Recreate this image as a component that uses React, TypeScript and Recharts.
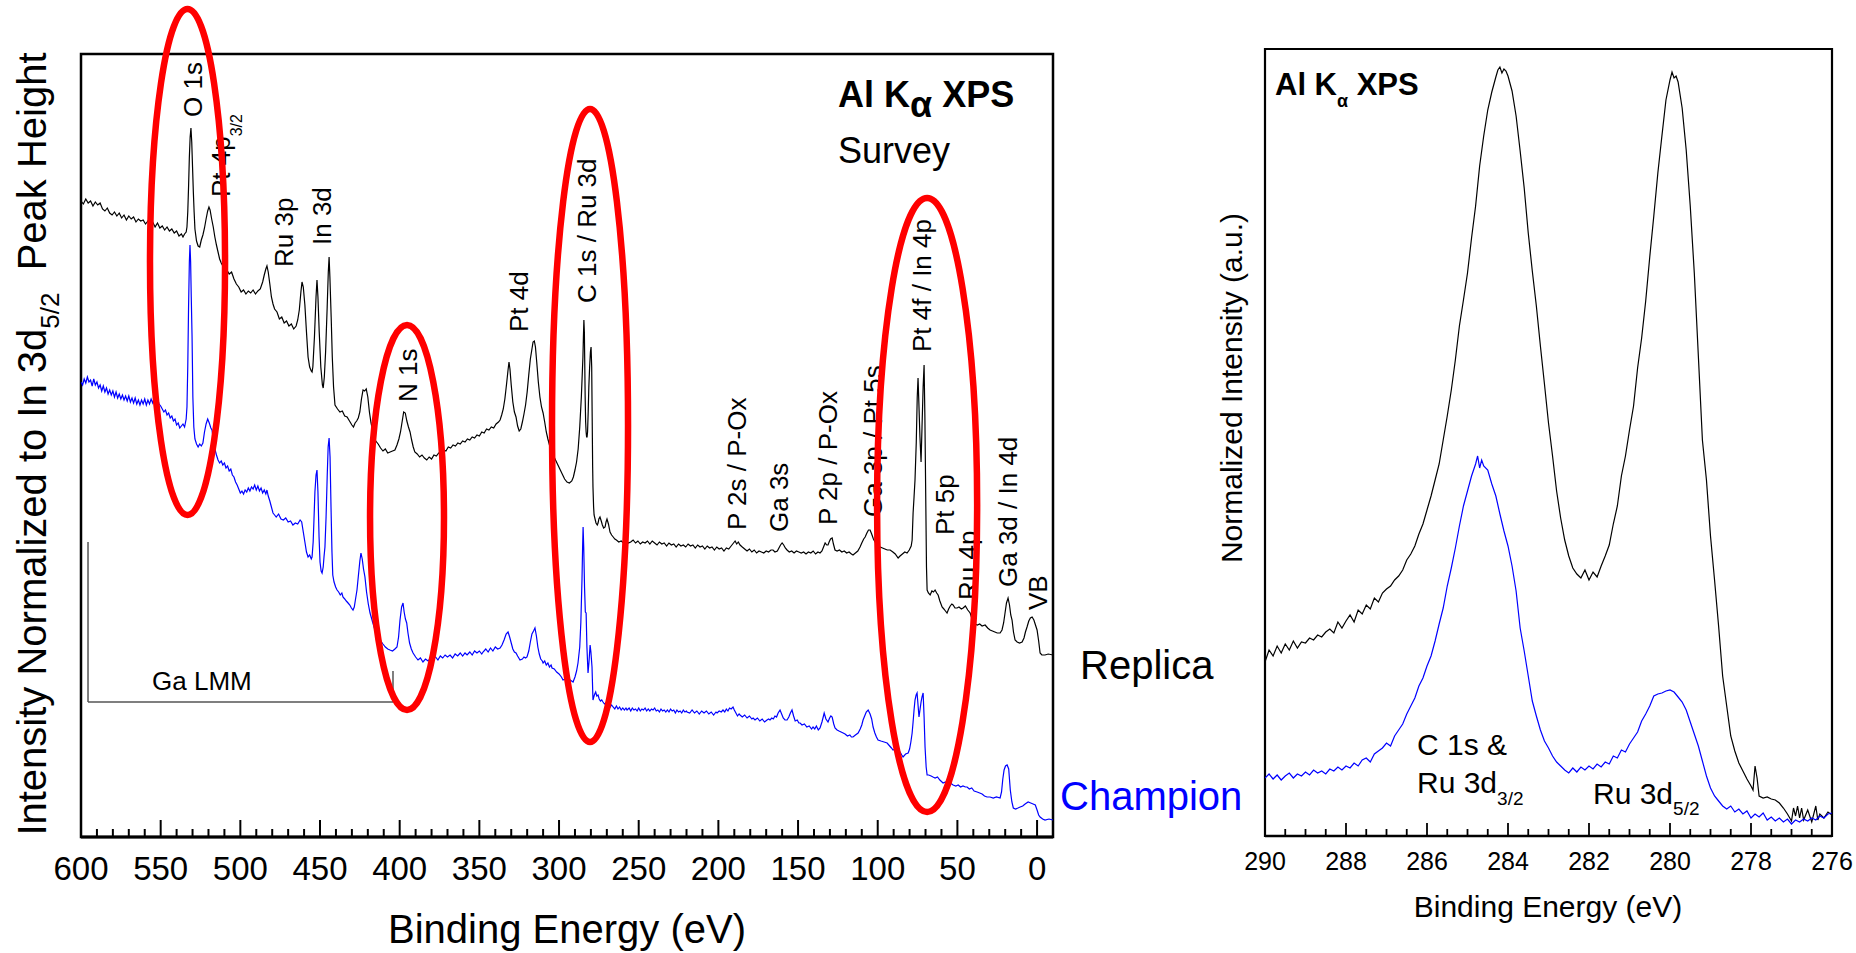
import React from 'react';
import { LineChart, Line, XAxis, YAxis, ReferenceArea, ReferenceDot, ReferenceLine } from 'recharts';

const FONT = '"Liberation Sans", Arial, Helvetica, sans-serif';
const BLUE = '#0000ff';

// Survey spectra: binding energy (eV), intensity (a.u., normalised to In 3d5/2 and offset)
const replicaSurvey: [number, number][] = [
  [600, 636], [598.5, 633], [597, 638], [595.5, 634], [594, 636], [592.5, 631], [591, 635], [589.5, 632],
  [588, 634], [586.5, 628], [585, 626], [583.5, 629], [582, 624], [580.5, 622], [579, 625], [577.5, 621],
  [576, 624], [574.5, 619], [573, 622], [571.5, 617], [570, 621], [568.5, 618], [567, 620], [565.5, 615],
  [564, 618], [562.5, 616], [561, 617], [559.5, 613], [558, 616], [556.5, 612], [555, 615], [553.5, 610],
  [552, 614], [550.5, 609], [549, 611], [547.5, 607], [546, 610], [544.5, 606], [543, 608], [541.5, 604],
  [540, 606], [538.5, 601], [537, 603], [536, 600], [535, 603], [534, 605], [533.5, 610], [533, 625],
  [532.5, 650], [532, 680], [531.5, 700], [531, 709], [530.5, 695], [530, 670], [529.5, 645], [529, 625],
  [528.5, 608], [527.5, 596], [526.5, 591], [525.5, 590], [524.5, 597], [523.5, 602], [522.5, 609],
  [521.5, 618], [520.5, 626], [519.7, 630], [519, 627], [518, 618], [517, 610], [516, 600], [515, 592],
  [514, 585], [513, 578], [512, 574], [511, 571], [510, 569], [508.5, 567], [507, 563], [505.5, 565],
  [504, 558], [502.5, 553], [501, 550], [499.5, 545], [498, 547], [496.5, 543], [495, 546], [493.5, 544],
  [492, 547], [490.5, 543], [489, 546], [487.5, 548], [486, 555], [485, 562], [484, 568], [483.3, 571],
  [482.5, 565], [481.5, 553], [480.5, 540], [479.5, 533], [478.5, 528], [477, 525], [475.5, 518],
  [474, 520], [472.5, 514], [471, 516], [469.5, 511], [468, 513], [466.5, 508], [465, 511], [464, 517],
  [463, 527], [462, 545], [461.3, 555], [460.5, 550], [459.5, 532], [458.5, 505], [457.5, 480],
  [456.5, 470], [455.5, 466], [455, 465], [454.5, 470], [453.5, 500], [452.5, 540], [451.9, 557],
  [451.3, 540], [450.5, 505], [449.5, 470], [448.5, 452], [448, 449], [447.3, 460], [446.5, 485],
  [445.5, 530], [444.8, 565], [444.3, 580], [443.8, 560], [443, 520], [442.3, 480], [441.5, 450],
  [440.6, 432], [439, 428], [437.5, 425], [436, 426], [434.5, 421], [433, 420], [431.5, 416], [430, 412],
  [429, 410], [428, 414], [427, 416], [426, 419], [425, 425], [424, 438], [423, 447], [422, 446],
  [421, 448], [420, 440], [419, 425], [418, 414], [416.5, 403], [415, 396], [413.5, 393], [412, 389],
  [410.5, 386], [409, 388], [407.5, 384], [406, 385], [404.5, 386], [403, 387], [401.7, 392],
  [400.5, 398], [399.5, 405], [398.5, 415], [397.5, 425], [396.5, 424], [395.5, 416], [394.5, 410],
  [393.5, 405], [392.5, 397], [391.5, 390], [390.5, 385], [389, 383], [387.5, 380], [386, 382],
  [384.5, 379], [383, 377], [381.5, 380], [380, 378], [378.5, 382], [377, 381], [375.5, 384], [374, 383],
  [372.5, 387], [371, 386], [369.5, 390], [368, 389], [366.5, 392], [365, 391], [363.5, 394], [362, 393],
  [360.5, 396], [359, 395], [357.5, 398], [356, 397], [354.5, 400], [353, 399], [351.5, 402], [350, 401],
  [348.5, 405], [347, 404], [345.5, 408], [344, 407], [342.5, 410], [341, 409], [339.5, 413], [338, 415],
  [337, 417], [336, 422], [335, 428], [334, 438], [333, 452], [332, 467], [331.4, 475], [330.8, 468],
  [330, 452], [329, 435], [328, 425], [327, 420], [326, 411], [325, 406], [324, 408], [323, 415],
  [322, 423], [321, 432], [320, 445], [319, 462], [318, 478], [317, 488], [316.3, 495], [315.5, 496],
  [314.8, 490], [314, 475], [313, 455], [312, 440], [311, 430], [310, 424], [309, 415], [308, 405],
  [307, 398], [306, 392], [305, 387], [304, 383], [302.5, 378], [301, 373], [299.5, 368], [298, 363],
  [296.5, 358], [295, 355], [293.5, 354], [292, 356], [291, 360], [290, 367], [289, 375], [288, 388],
  [287, 410], [286.5, 425], [286, 440], [285.5, 460], [285, 480], [284.7, 500], [284.4, 517],
  [284.1, 505], [283.6, 440], [283.3, 415], [283, 405], [282.7, 400], [282.4, 400], [282.1, 405],
  [281.7, 425], [281.3, 450], [280.8, 470], [280.3, 485], [279.9, 490], [279.5, 470], [279.2, 420],
  [278.9, 370], [278.7, 350], [278.3, 330], [278, 322], [277.4, 318], [276.8, 314], [276, 312],
  [275.5, 314], [275, 318], [274.3, 320], [273.5, 316], [272.8, 312], [272, 309], [271.1, 310],
  [270.5, 315], [269.9, 318], [269, 313], [268, 305], [267, 302], [266, 300], [265, 298], [264, 297],
  [262.5, 295], [261, 296], [259.5, 294], [258, 296], [256.5, 294], [255, 295], [253.5, 297], [252, 294],
  [250.5, 296], [249, 293], [247.5, 295], [246, 294], [244.5, 296], [243, 293], [241.5, 296], [240, 294],
  [238.5, 292], [237, 295], [235.5, 293], [234, 294], [232.5, 291], [231, 294], [229.5, 292], [228, 293],
  [226.5, 290], [225, 293], [223.5, 291], [222, 292], [220.5, 290], [219, 293], [217.5, 291], [216, 292],
  [214.5, 289], [213, 292], [211.5, 290], [210, 291], [208.5, 288], [207, 291], [205.5, 289], [204, 290],
  [202.5, 287], [201, 290], [199.5, 288], [198, 289], [196.5, 286], [195, 289], [193.5, 288], [192, 291],
  [190.5, 294], [189.5, 296], [188.5, 293], [187.5, 295], [186.4, 292], [185, 290], [183.5, 288],
  [182, 286], [180.5, 288], [179, 285], [177.5, 287], [176, 284], [174.5, 286], [173, 285], [171.5, 284],
  [170, 286], [168.5, 285], [167, 287], [165.7, 287], [164.5, 285], [163, 286], [162, 289], [161, 292],
  [160, 294], [159, 292], [158, 289], [156.9, 287], [155.5, 285], [154, 286], [152.5, 284], [151, 286],
  [149.5, 285], [148, 284], [146.5, 285], [145, 283], [143.5, 285], [142, 284], [140.5, 286], [139, 283],
  [137.5, 285], [136.2, 284], [135, 286], [134, 290], [133, 294], [132, 292], [131.2, 292], [130.5, 295],
  [129.6, 298], [128.6, 299], [127.8, 293], [126.8, 287], [125.5, 286], [124, 287], [122.5, 285],
  [121, 286], [119.5, 284], [118, 285], [116.5, 283], [115.5, 282], [114, 284], [112.5, 286], [111.1, 290],
  [110, 294], [108.8, 298], [107.9, 300], [106.8, 304], [105.8, 307], [104.8, 307], [103.8, 303],
  [102.7, 298], [101.7, 295], [100, 292], [98.5, 290], [97, 289], [95.5, 288], [94, 287], [92.2, 287],
  [90.5, 285], [89, 283], [87.2, 279], [86, 281], [84.5, 283], [83, 285], [81.6, 284], [80.2, 287],
  [79, 291], [78.4, 297], [77.8, 324], [77.2, 340], [76.6, 357], [75.8, 395], [75.2, 440], [74.7, 459],
  [74.2, 435], [73.5, 400], [72.8, 375], [72.2, 410], [71.5, 450], [70.9, 472], [70.4, 420], [69.8, 330],
  [69.4, 270], [69, 247], [68.2, 244], [67.1, 242], [66, 246], [65, 245], [64, 247], [63, 244],
  [62.1, 242], [61, 236], [59.6, 230], [58.5, 228], [57.5, 226], [56.5, 224], [55.5, 228], [54.5, 231],
  [53.5, 233], [52.7, 232], [51.5, 229], [50.2, 229], [49, 230], [47.5, 228], [46.4, 229], [45, 231],
  [43.5, 227], [42, 224], [41, 219], [40.2, 215], [39, 213], [37.5, 212], [36, 213], [34.5, 211],
  [32.6, 212], [31, 209], [29.5, 207], [28, 206], [26.5, 205], [25, 204], [23.2, 204], [22, 207],
  [21, 214], [20.1, 224], [19.2, 234], [18.2, 239], [17.3, 232], [16.5, 222], [15.7, 217], [14.8, 205],
  [13.8, 197], [12.5, 195], [11, 194], [9.4, 195], [8.2, 199], [7.3, 205], [6.3, 210], [5.2, 216],
  [4.2, 219], [3.1, 220], [2, 217], [1, 212], [0, 207], [-1, 196], [-1.9, 184], [-3, 182], [-5, 182],
  [-7, 183], [-10, 182],
];

const championSurvey: [number, number][] = [
  [600, 455], [599, 452], [598, 458], [597, 454], [596, 460], [595, 455], [594, 457], [593, 451],
  [592, 458], [591, 452], [590, 455], [589, 449], [588, 452], [587, 446], [586, 451], [585, 445],
  [584, 449], [583, 443], [582, 447], [581, 442], [580, 446], [579, 440], [578, 445], [577, 439],
  [576, 443], [575, 438], [574, 442], [573, 437], [572, 441], [571, 436], [570, 441], [569, 435],
  [568, 439], [567, 434], [566, 439], [565, 433], [564, 437], [563, 432], [562, 437], [561, 433],
  [560, 438], [559, 432], [558, 437], [557, 433], [556, 438], [555, 434], [554, 439], [553, 435],
  [552, 438], [551, 433], [550, 431], [549, 428], [548, 425], [547, 427], [546, 422], [545, 424],
  [544, 419], [543, 421], [542, 416], [541, 418], [540, 412], [539, 414], [538, 409], [537, 411],
  [536, 413], [535, 410], [534, 418], [533.5, 430], [533, 470], [532.5, 530], [532, 575], [531.6, 592],
  [531.2, 575], [530.8, 540], [530.3, 500], [529.8, 440], [529.2, 410], [528.5, 398], [527.5, 393],
  [526.5, 390], [525.5, 393], [524.5, 391], [523.5, 394], [522.5, 405], [521.5, 413], [520.5, 418],
  [519.5, 414], [518.5, 409], [517.8, 407], [517, 398], [516, 388], [515, 382], [514, 377], [513, 374],
  [512, 376], [511, 372], [510, 374], [509, 369], [508, 371], [507, 366], [506, 368], [505, 362],
  [504, 360], [503, 355], [502, 352], [501, 348], [500, 344], [499, 346], [498, 343], [497, 347],
  [496, 345], [495, 349], [494, 346], [493, 350], [492, 348], [491, 352], [490, 347], [489, 351],
  [488, 346], [487, 349], [486, 344], [485, 347], [484, 343], [483.3, 347], [482.5, 341], [481.5, 336],
  [480.5, 330], [479.5, 324], [478.5, 322], [477.5, 320], [476, 323], [474.5, 318], [473, 317],
  [471.5, 319], [470, 315], [468.5, 316], [467, 312], [465.5, 314], [464, 313], [462.5, 317],
  [461.5, 315], [460.7, 307], [459.5, 295], [458.5, 285], [457.5, 280], [456.5, 282], [455.5, 278],
  [455, 280], [454.3, 295], [453.8, 317], [453.2, 345], [452.5, 362], [451.9, 367], [451.3, 345],
  [450.6, 300], [450, 275], [449.3, 266], [448.7, 264], [448, 270], [447.5, 280], [446.9, 290],
  [446.2, 320], [445.5, 360], [444.9, 390], [444.3, 399], [443.7, 380], [443.1, 330], [442.5, 285],
  [442, 262], [441.2, 255], [440.2, 250], [439.3, 247], [438.3, 245], [437.3, 242], [436.3, 244],
  [435.6, 240], [434.5, 238], [433.5, 236], [432.4, 234], [431.3, 232], [430.3, 229], [429.3, 227],
  [428.5, 230], [427.8, 237], [426.8, 247], [426, 260], [425, 276], [424.3, 284], [423.5, 278],
  [422.7, 268], [421.8, 260], [420.8, 245], [419.7, 233], [418.6, 224], [417, 215], [415.5, 207],
  [414, 201], [412.3, 197], [410.5, 193], [409, 190], [407.5, 188], [406.1, 187], [404.5, 186],
  [403, 188], [401.7, 190], [400.7, 200], [399.8, 217], [398.8, 230], [397.9, 234], [397.2, 225],
  [396.4, 218], [395.6, 214], [394.8, 204], [393.8, 194], [392.7, 188], [391.6, 184], [390, 180],
  [388.5, 177], [387, 179], [385.4, 175], [383.8, 178], [382.2, 176], [380.7, 179], [379.1, 179],
  [377.5, 180], [376, 177], [374.5, 181], [373, 179], [371.5, 182], [370, 180], [368.4, 182],
  [366.8, 179], [365.2, 183], [363.6, 181], [362, 184], [360.5, 181], [359, 184], [357.7, 182],
  [356, 185], [354.5, 182], [353, 186], [351.5, 184], [350, 186], [348.5, 183], [347.7, 185], [346, 188],
  [344.5, 185], [343, 189], [341.5, 186], [340, 190], [338.5, 188], [337, 189], [335.8, 192],
  [334.5, 197], [333.2, 203], [332, 205], [331, 200], [330, 194], [329, 188], [328, 185], [327, 184],
  [326, 181], [324.5, 177], [323, 178], [322, 180], [321, 179], [320.1, 180], [319, 186], [318, 195],
  [317, 203], [316, 206], [315.1, 209], [314.2, 201], [313.3, 190], [312.4, 183], [311.5, 178],
  [310.5, 176], [310, 174], [309, 176], [308, 172], [307, 174], [306, 170], [305, 172], [304.4, 169],
  [303, 168], [301.5, 165], [300, 163], [298.5, 160], [297.5, 157], [296, 158], [294.5, 156], [293, 157],
  [291.2, 155], [290, 160], [289, 166], [288.1, 174], [287, 190], [286.3, 215], [285.6, 257],
  [285.2, 290], [284.9, 310], [284.5, 290], [284, 250], [283.5, 225], [283, 224], [282.5, 190],
  [281.8, 164], [281.2, 175], [280.5, 192], [280, 185], [279.3, 170], [278.7, 137], [278.2, 140],
  [277.6, 143], [277, 145], [276.3, 141], [275.5, 142], [274.8, 138], [274, 136], [273.2, 137],
  [272.4, 135], [271.5, 133], [270.6, 134], [269.7, 131], [268.8, 133], [267.9, 130], [267, 132],
  [266.1, 130], [265, 128], [264, 131], [263, 128], [262, 130], [261, 127], [260, 129], [259, 127],
  [258, 129], [257.3, 127], [256, 129], [255, 126], [254, 129], [253, 127], [252, 128], [251, 126],
  [250, 129], [249, 126], [248, 128], [247, 127], [246, 129], [245, 126], [244, 128], [243, 126],
  [242, 128], [241, 127], [240, 129], [239, 126], [238, 127], [237, 125], [236, 128], [235, 126],
  [234, 127], [233, 125], [232, 127], [231, 125], [230, 128], [229, 126], [228, 127], [227, 124],
  [226, 127], [225, 125], [224, 126], [223, 124], [222, 127], [221, 125], [220, 126], [219.7, 125],
  [218, 124], [216.5, 127], [215, 124], [213.5, 126], [212, 123], [210.5, 126], [209, 124], [207.5, 126],
  [206, 123], [204.5, 125], [203, 122], [201.5, 125], [200.8, 124], [199.5, 126], [198.2, 125],
  [197.1, 127], [196, 125], [195, 128], [194, 126], [193, 129], [192, 128], [190.8, 130], [190, 127],
  [189, 124], [188, 121], [187, 123], [186.4, 122], [185, 120], [183.5, 122], [182, 119], [180.5, 121],
  [179, 118], [178.2, 119], [177, 117], [175.5, 119], [174, 116], [172.5, 118], [171, 115], [169.5, 117],
  [168.5, 118], [167.6, 117], [166.5, 119], [165.5, 118], [164.5, 121], [163.5, 120], [162.5, 124],
  [161.3, 127], [160.3, 123], [159.3, 119], [158.2, 117], [156.9, 117], [155.8, 120], [154.8, 124],
  [153.8, 127], [152.8, 121], [151.8, 116], [150.5, 117], [149.5, 114], [148.7, 114], [147.5, 112],
  [146, 113], [144.5, 110], [143, 111], [141.5, 108], [140.6, 110], [139.5, 108], [138.5, 111],
  [137.3, 107], [136.2, 109], [135, 115], [134.2, 120], [133.6, 124], [132.5, 118], [131.2, 115],
  [130.2, 119], [129.4, 121], [128.6, 120], [127.6, 113], [126.8, 109], [125.5, 107], [124.3, 106],
  [123, 105], [121.7, 104], [120.5, 103], [119, 101], [117.5, 102], [116.5, 100], [115.5, 100],
  [114, 102], [112.3, 104], [111, 108], [110, 112], [109.2, 117], [108.2, 121], [107.2, 125], [106, 127],
  [104.8, 123], [103.8, 118], [102.9, 110], [101.8, 104], [100.8, 100], [99.8, 97], [98, 96], [96, 95],
  [94.1, 94], [92.5, 91], [91.4, 89], [90.4, 87], [89, 88], [87.6, 86], [86, 85], [84.9, 82], [84.1, 80],
  [82.5, 83], [80.9, 84], [80, 88], [79.2, 95], [78.4, 104], [77.8, 115], [77.2, 127], [76.6, 137],
  [75.9, 142], [75.3, 144], [74.7, 132], [74.1, 120], [73.4, 128], [72.8, 135], [72.2, 140], [71.5, 144],
  [70.9, 120], [70.3, 90], [69.6, 70], [69, 62], [68, 62], [66.5, 61], [65.3, 60], [64, 59], [62.5, 60],
  [61, 57], [59, 54], [57.5, 55], [56, 53], [54.5, 54], [52.7, 52], [51, 51], [49.5, 52], [48, 50],
  [46.5, 51], [45, 50], [43.9, 50], [42.5, 48], [41, 49], [39.5, 46], [37.6, 45], [36, 44], [34.5, 43],
  [33, 41], [31.4, 40], [29.5, 40], [27.5, 39], [25.5, 40], [23.2, 39], [22.3, 45], [21.5, 58],
  [20.7, 67], [19.8, 71], [18.8, 72], [17.8, 68], [16.8, 47], [15.8, 35], [14.9, 29], [13.5, 28],
  [12, 29], [10.6, 30], [9, 31], [7.5, 33], [5.6, 35], [4, 34], [2.5, 33], [1.1, 32], [0, 27], [-1, 22],
  [-1.9, 20], [-3.5, 18], [-5, 17], [-7.5, 18], [-10, 17],
];

// High-resolution C 1s / Ru 3d window
const replicaC1s: [number, number][] = [
  [290, 174], [289.9, 186], [289.8, 180], [289.7, 190], [289.6, 183], [289.5, 192], [289.4, 186],
  [289.3, 195], [289.2, 188], [289.1, 194], [289, 193], [288.9, 198], [288.8, 196], [288.7, 201],
  [288.6, 199], [288.5, 204], [288.4, 207], [288.3, 203], [288.2, 214], [288.1, 208], [288, 215],
  [287.9, 221], [287.8, 214], [287.7, 226], [287.6, 222], [287.5, 231], [287.4, 227], [287.3, 238],
  [287.2, 234], [287.1, 243], [287, 247], [286.9, 250], [286.8, 256], [286.7, 260], [286.6, 266],
  [286.5, 276], [286.4, 282], [286.3, 290], [286.2, 302], [286.1, 312], [286, 326], [285.9, 340],
  [285.8, 356], [285.7, 372], [285.6, 396], [285.5, 420], [285.4, 446], [285.3, 476], [285.2, 510],
  [285.1, 536], [285, 563], [284.9, 598], [284.8, 630], [284.7, 670], [284.6, 700], [284.5, 726],
  [284.4, 744], [284.3, 759], [284.25, 766], [284.2, 769], [284.15, 763], [284.1, 767], [284.05, 765],
  [284, 760], [283.9, 745], [283.8, 720], [283.7, 685], [283.6, 648], [283.5, 603], [283.4, 565],
  [283.3, 530], [283.2, 490], [283.1, 452], [283, 413], [282.9, 380], [282.8, 345], [282.7, 318],
  [282.6, 296], [282.5, 280], [282.4, 268], [282.3, 262], [282.2, 258], [282.1, 266], [282, 256],
  [281.9, 264], [281.8, 259], [281.7, 270], [281.6, 280], [281.5, 291], [281.4, 312], [281.3, 330],
  [281.2, 360], [281.1, 380], [281, 406], [280.9, 430], [280.8, 468], [280.7, 498], [280.6, 535],
  [280.5, 579], [280.4, 620], [280.3, 663], [280.2, 700], [280.1, 736], [280, 756], [279.95, 764],
  [279.9, 758], [279.85, 760], [279.8, 754], [279.7, 728], [279.6, 686], [279.5, 630], [279.4, 563],
  [279.3, 480], [279.2, 396], [279.1, 356], [279, 300], [278.9, 256], [278.8, 210], [278.7, 160],
  [278.6, 130], [278.5, 100], [278.4, 85], [278.3, 73], [278.2, 65], [278.1, 57], [278, 50],
  [277.95, 46], [277.9, 70], [277.85, 58], [277.8, 40], [277.7, 38], [277.6, 39], [277.5, 37],
  [277.4, 36], [277.3, 33], [277.2, 28], [277.1, 22], [277, 15], [276.95, 28], [276.9, 20],
  [276.85, 30], [276.8, 18], [276.75, 28], [276.7, 16], [276.6, 26], [276.5, 14], [276.4, 30],
  [276.35, 16], [276.3, 22], [276.2, 18], [276.1, 24], [276, 21],
];

const championC1s: [number, number][] = [
  [290, 58], [289.9, 62], [289.8, 57], [289.7, 61], [289.6, 56], [289.5, 60], [289.4, 63], [289.3, 58],
  [289.2, 62], [289.1, 60], [289, 64], [288.9, 61], [288.8, 66], [288.7, 63], [288.6, 65], [288.5, 62],
  [288.4, 67], [288.3, 65], [288.2, 69], [288.1, 66], [288, 70], [287.9, 68], [287.8, 73], [287.7, 70],
  [287.6, 76], [287.5, 78], [287.4, 74], [287.3, 82], [287.2, 85], [287.1, 88], [287, 93], [286.9, 90],
  [286.8, 100], [286.7, 106], [286.6, 112], [286.5, 122], [286.4, 130], [286.3, 138], [286.2, 150],
  [286.1, 158], [286, 170], [285.9, 180], [285.8, 195], [285.7, 212], [285.6, 228], [285.5, 250],
  [285.4, 268], [285.3, 288], [285.2, 310], [285.1, 330], [285, 345], [284.9, 360], [284.8, 372],
  [284.75, 380], [284.7, 368], [284.65, 376], [284.6, 370], [284.5, 366], [284.4, 352], [284.3, 340],
  [284.2, 322], [284.1, 305], [284, 290], [283.9, 270], [283.8, 245], [283.7, 208], [283.6, 185],
  [283.5, 160], [283.4, 135], [283.3, 120], [283.2, 106], [283.1, 95], [283, 88], [282.9, 80],
  [282.8, 74], [282.7, 70], [282.6, 66], [282.5, 63], [282.4, 68], [282.3, 64], [282.2, 69], [282.1, 66],
  [282, 70], [281.9, 67], [281.8, 72], [281.7, 69], [281.6, 74], [281.5, 72], [281.4, 80], [281.3, 78],
  [281.2, 86], [281.1, 84], [281, 92], [280.9, 98], [280.8, 104], [280.7, 115], [280.6, 122],
  [280.5, 130], [280.4, 140], [280.3, 142], [280.2, 143], [280.1, 145], [280, 146], [279.9, 144],
  [279.8, 139], [279.7, 134], [279.6, 126], [279.5, 114], [279.4, 102], [279.3, 90], [279.2, 75],
  [279.1, 60], [279, 48], [278.9, 40], [278.8, 35], [278.7, 30], [278.6, 27], [278.5, 30], [278.4, 24],
  [278.3, 27], [278.2, 22], [278.1, 25], [278, 18], [277.9, 22], [277.8, 19], [277.7, 23], [277.6, 16],
  [277.5, 19], [277.4, 15], [277.3, 18], [277.2, 14], [277.1, 17], [277, 12], [276.9, 16], [276.8, 14],
  [276.7, 17], [276.6, 15], [276.5, 18], [276.4, 16], [276.3, 20], [276.2, 18], [276.1, 22], [276, 23],
];

const SURVEY_TICKS = [
  600, 590, 580, 570, 560, 550, 540, 530, 520, 510, 500, 490, 480, 470, 460, 450, 440, 430, 420, 410,
  400, 390, 380, 370, 360, 350, 340, 330, 320, 310, 300, 290, 280, 270, 260, 250, 240, 230, 220, 210,
  200, 190, 180, 170, 160, 150, 140, 130, 120, 110, 100, 90, 80, 70, 60, 50, 40, 30, 20, 10, 0,
];
const C1S_TICKS = [
  290, 289.5, 289, 288.5, 288, 287.5, 287, 286.5, 286, 285.5, 285, 284.5, 284, 283.5, 283, 282.5, 282,
  281.5, 281, 280.5, 280, 279.5, 279, 278.5, 278, 277.5, 277, 276.5, 276,
];

// peak label: text, subscript, eV, intensity at the label's lower end
const SURVEY_PEAKS: [string, string, number, number][] = [
  ['O 1s', '', 524.1, 720],
  ['Pt 4p', '3/2', 506.5, 640],
  ['Ru 3p', '', 467.2, 570],
  ['In 3d', '', 443.1, 592],
  ['N 1s', '', 389.1, 435],
  ['Pt 4d', '', 319.4, 505],
  ['C 1s / Ru 3d', '', 276.8, 534],
  ['P 2s / P-Ox', '', 182.6, 307],
  ['Ga 3s', '', 156.3, 305],
  ['P 2p / P-Ox', '', 125.8, 312],
  ['Ga 3p / Pt 5s', '', 97.5, 320],
  ['Pt 4f / In 4p', '', 66.8, 485],
  ['Pt 5p', '', 52.3, 302],
  ['Ru 4p', '', 37.9, 237],
  ['Ga 3d / In 4d', '', 12.8, 250],
  ['VB', '', -6.3, 227],
];

// highlight rings: eV from, eV to, intensity low, intensity high
const SURVEY_RINGS: [number, number, number, number][] = [
  [556.7, 509.6, 322, 828],
  [418.6, 372.2, 127, 512],
  [304.4, 256.7, 95, 728],
  [100.4, 37.6, 25, 639],
];

const rows = (pts: [number, number][]) => pts.map(([ev, i]) => ({ ev, i }));

function SurveyTick(props: any) {
  const { x, y, payload } = props;
  const v = payload.value;
  const major = v % 50 === 0;
  return (
    <g>
      {v !== 600 && <line x1={x} x2={x} y1={y} y2={y - (major ? 17 : 8)} stroke="#000" strokeWidth={2} />}
      {major && (
        <text x={x} y={y + 43} textAnchor="middle" fontSize={33} fontFamily={FONT} fill="#000">
          {v}
        </text>
      )}
    </g>
  );
}

function C1sTick(props: any) {
  const { x, y, payload } = props;
  const v = payload.value;
  const major = v % 2 === 0;
  const edge = v === 290 || v === 276;
  return (
    <g>
      {!edge && <line x1={x} x2={x} y1={y} y2={y - (major ? 13 : 7)} stroke="#000" strokeWidth={1.8} />}
      {major && (
        <text x={x} y={y + 34} textAnchor="middle" fontSize={25} fontFamily={FONT} fill="#000">
          {v}
        </text>
      )}
    </g>
  );
}

const peakShape = (text: string, sub: string) => (p: any) => (
  <text
    x={p.cx}
    y={p.cy}
    transform={`rotate(-90 ${p.cx} ${p.cy})`}
    fontSize={26}
    fontFamily={FONT}
    fill="#000"
  >
    {text}
    {sub && (
      <tspan fontSize={16} dy={12}>
        {sub}
      </tspan>
    )}
  </text>
);

const ringShape = (p: any) => (
  <ellipse
    cx={p.x + p.width / 2}
    cy={p.y + p.height / 2}
    rx={Math.abs(p.width) / 2}
    ry={Math.abs(p.height) / 2}
    fill="none"
    stroke="#ff0000"
    strokeWidth={6.5}
  />
);

const gaLmmShape = (p: any) => (
  <text x={p.cx} y={p.cy} fontSize={26} fontFamily={FONT} fill="#000">
    Ga LMM
  </text>
);

function SurveyChart() {
  return (
    <LineChart width={1856} height={953} margin={{ top: 54, right: 803, bottom: 46, left: 81 }}>
      <XAxis
        type="number"
        dataKey="ev"
        domain={[-10, 600]}
        reversed
        allowDataOverflow
        ticks={SURVEY_TICKS}
        interval={0}
        tick={(p: any) => <SurveyTick {...p} />}
        tickLine={false}
        tickSize={0}
        tickMargin={0}
        height={70}
        axisLine={{ stroke: '#000', strokeWidth: 3 }}
      />
      <YAxis type="number" domain={[0, 783]} allowDataOverflow hide />
      <ReferenceArea x1={600} x2={-10} y1={0} y2={783} fill="none" stroke="#000" strokeWidth={2.5} ifOverflow="visible" />
      <ReferenceLine segment={[{ x: 595.6, y: 295 }, { x: 595.6, y: 135 }]} stroke="#555" strokeWidth={1.5} />
      <ReferenceLine segment={[{ x: 595.6, y: 135 }, { x: 404.2, y: 135 }]} stroke="#555" strokeWidth={1.5} />
      <ReferenceLine segment={[{ x: 404.2, y: 166 }, { x: 404.2, y: 135 }]} stroke="#555" strokeWidth={1.5} />
      <ReferenceDot x={555.4} y={147} r={0} shape={gaLmmShape} />
      <Line data={rows(replicaSurvey)} dataKey="i" type="linear" stroke="#000" strokeWidth={1.2} dot={false} isAnimationActive={false} />
      <Line data={rows(championSurvey)} dataKey="i" type="linear" stroke={BLUE} strokeWidth={1.2} dot={false} isAnimationActive={false} />
      {SURVEY_PEAKS.map(([t, s, ev, i]) => (
        <ReferenceDot key={t} x={ev} y={i} r={0} ifOverflow="visible" zIndex={900} shape={peakShape(t, s)} />
      ))}
      {SURVEY_RINGS.map(([a, b, lo, hi]) => (
        <ReferenceArea key={a} x1={a} x2={b} y1={lo} y2={hi} ifOverflow="visible" zIndex={1000} shape={ringShape} />
      ))}
    </LineChart>
  );
}

function C1sChart() {
  return (
    <LineChart width={1856} height={953} margin={{ top: 49, right: 24, bottom: 47, left: 1265 }}>
      <XAxis
        type="number"
        dataKey="ev"
        domain={[276, 290]}
        reversed
        allowDataOverflow
        ticks={C1S_TICKS}
        interval={0}
        tick={(p: any) => <C1sTick {...p} />}
        tickLine={false}
        tickSize={0}
        tickMargin={0}
        height={70}
        axisLine={{ stroke: '#000', strokeWidth: 2.5 }}
      />
      <YAxis type="number" domain={[0, 787]} allowDataOverflow hide />
      <ReferenceArea x1={290} x2={276} y1={0} y2={787} fill="none" stroke="#000" strokeWidth={2.2} ifOverflow="visible" />
      <Line data={rows(replicaC1s)} dataKey="i" type="linear" stroke="#000" strokeWidth={1.2} dot={false} isAnimationActive={false} />
      <Line data={rows(championC1s)} dataKey="i" type="linear" stroke={BLUE} strokeWidth={1.2} dot={false} isAnimationActive={false} />
    </LineChart>
  );
}

export default function App() {
  const layer: React.CSSProperties = { position: 'absolute', left: 0, top: 0 };
  return (
    <div style={{ position: 'absolute', left: 0, top: 0, width: 1856, height: 953, background: '#fff', fontFamily: FONT }}>
      <div style={layer}>
        <SurveyChart />
      </div>
      <div style={layer}>
        <C1sChart />
      </div>
      <svg width={1856} height={953} style={{ ...layer, pointerEvents: 'none' }} fontFamily={FONT}>
        <text x={45.6} y={444} transform="rotate(-90 45.6 444)" textAnchor="middle" fontSize={40} fill="#000">
          Intensity Normalized to In 3d
          <tspan fontSize={26} dy={13}>5/2</tspan>
          <tspan dy={-13}>{'\u00a0 Peak Height'}</tspan>
        </text>
        <text x={567} y={943} textAnchor="middle" fontSize={40} fill="#000">Binding Energy (eV)</text>
        <text x={838} y={107} fontSize={36} fontWeight="bold" fill="#000">
          Al K<tspan dy={10}>α</tspan>
          <tspan dy={-10}> XPS</tspan>
        </text>
        <text x={838} y={163} fontSize={36} fill="#000">Survey</text>
        <text x={1080} y={679} fontSize={40} fill="#000">Replica</text>
        <text x={1060} y={810} fontSize={40} fill={BLUE}>Champion</text>

        <text x={1275} y={95} fontSize={31} fontWeight="bold" fill="#000">
          Al K<tspan fontSize={18} dy={12}>α</tspan>
          <tspan dy={-12}> XPS</tspan>
        </text>
        <text x={1241.5} y={388} transform="rotate(-90 1241.5 388)" textAnchor="middle" fontSize={30} fill="#000">
          Normalized Intensity (a.u.)
        </text>
        <text x={1548} y={917} textAnchor="middle" fontSize={30} fill="#000">Binding Energy (eV)</text>
        <text x={1417} y={755} fontSize={30} fill="#000">C 1s &amp;</text>
        <text x={1417} y={793} fontSize={30} fill="#000">
          Ru 3d<tspan fontSize={19} dy={12}>3/2</tspan>
        </text>
        <text x={1593} y={804} fontSize={30} fill="#000">
          Ru 3d<tspan fontSize={19} dy={11}>5/2</tspan>
        </text>
      </svg>
    </div>
  );
}
